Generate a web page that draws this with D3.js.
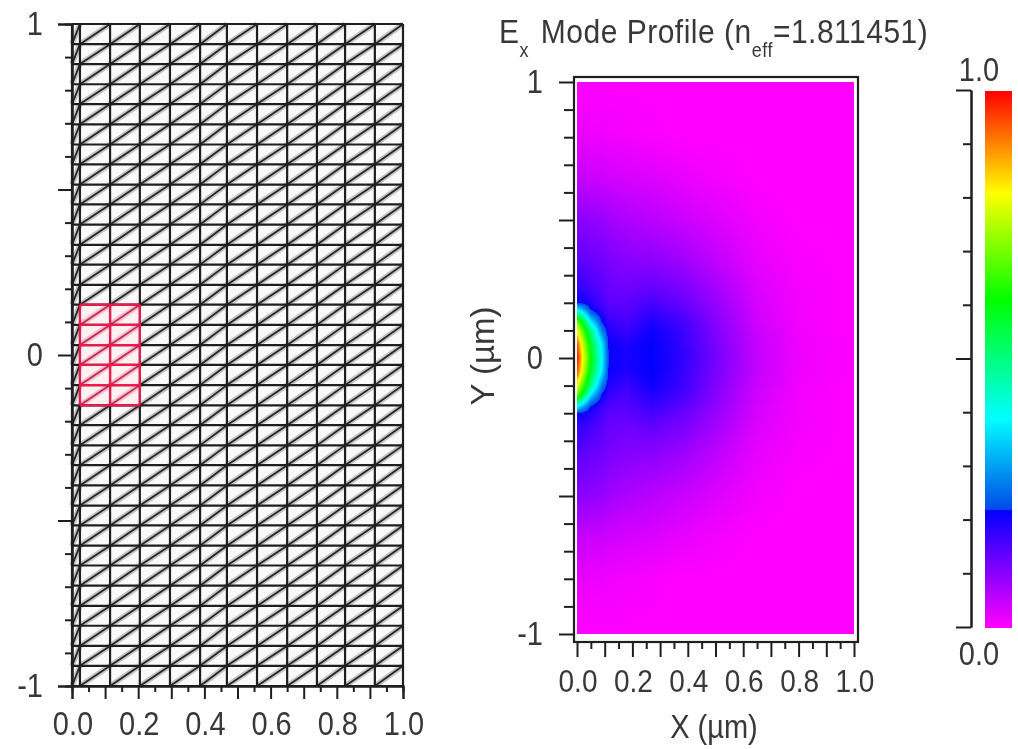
<!DOCTYPE html>
<html>
<head>
<meta charset="utf-8">
<script src="https://cdn.jsdelivr.net/npm/d3@7"></script>
<style>
  html, body { margin: 0; background: #fff; }
  svg { display: block; filter: blur(0.7px); }
  text { font-family: "Liberation Sans", Arial, sans-serif; fill: #383838; }
  text.st { transform-box: fill-box; transform-origin: center; transform: scaleY(1.13); }
</style>
</head>
<body>
<svg id="chart" width="1018" height="749"></svg>
<script>
// mesh lines of the left panel (um)
const meshX = [0, 0.024, 0.115, 0.205, 0.296, 0.387, 0.468, 0.559, 0.650, 0.740, 0.825, 0.915, 1];
const meshY = [1, 0.939, 0.879, 0.818, 0.758, 0.697, 0.636, 0.576, 0.515, 0.455, 0.394, 0.333, 0.273, 0.212, 0.152, 0.091, 0.030,
  -0.030, -0.091, -0.152, -0.212, -0.273, -0.333, -0.394, -0.455, -0.515, -0.576, -0.636, -0.697, -0.758, -0.818, -0.879, -0.939, -1];
// waveguide core, drawn in red
const coreX = [0.024, 0.205];
const coreY = [-0.152, 0.152];

// field, |y| rows by x columns (it is mirrored about y=0)
const fieldX = [0, 0.02, 0.05, 0.09, 0.115, 0.18, 0.27, 0.38, 0.5, 0.65, 0.8, 1];
const fieldY = [0, 0.05, 0.1, 0.13, 0.16, 0.18, 0.2, 0.25, 0.35, 0.5, 0.65, 0.8, 1];
const fieldZ = [
  [1.00, 0.82, 0.61, 0.39, 0.215, 0.20, 0.22, 0.18, 0.12, 0.05, 0.015, 0],
  [0.95, 0.78, 0.58, 0.37, 0.21, 0.195, 0.22, 0.175, 0.115, 0.05, 0.015, 0],
  [0.80, 0.68, 0.50, 0.27, 0.19, 0.17, 0.21, 0.17, 0.11, 0.045, 0.012, 0],
  [0.70, 0.60, 0.38, 0.22, 0.175, 0.16, 0.195, 0.16, 0.105, 0.04, 0.01, 0],
  [0.50, 0.42, 0.26, 0.19, 0.16, 0.15, 0.18, 0.15, 0.10, 0.04, 0.01, 0],
  [0.36, 0.30, 0.21, 0.17, 0.15, 0.145, 0.17, 0.14, 0.095, 0.035, 0.01, 0],
  [0.215, 0.21, 0.19, 0.16, 0.14, 0.14, 0.16, 0.13, 0.09, 0.035, 0.01, 0],
  [0.18, 0.175, 0.16, 0.145, 0.13, 0.125, 0.135, 0.115, 0.08, 0.03, 0.008, 0],
  [0.145, 0.14, 0.13, 0.125, 0.115, 0.105, 0.10, 0.085, 0.055, 0.02, 0.005, 0],
  [0.10, 0.10, 0.095, 0.09, 0.08, 0.07, 0.06, 0.045, 0.03, 0.01, 0, 0],
  [0.05, 0.05, 0.045, 0.045, 0.04, 0.035, 0.03, 0.02, 0.01, 0, 0, 0],
  [0.02, 0.02, 0.015, 0.015, 0.012, 0.01, 0.005, 0, 0, 0, 0, 0],
  [0, 0, 0, 0, 0, 0, 0, 0, 0, 0, 0, 0]
];

// colour bar stops, with the hard step just above blue
const colorValues = [0, 0.22, 0.2201, 0.39, 0.61, 0.81, 1];
const colorNames = ["#ff00ff", "#0000ff", "#0048e8", "#00ffff", "#00ff00", "#ffff00", "#ff0000"];

const xTicks = [0, 0.2, 0.4, 0.6, 0.8, 1];
const xMinor = [0.05, 0.1, 0.15, 0.25, 0.3, 0.35, 0.45, 0.5, 0.55, 0.65, 0.7, 0.75, 0.85, 0.9, 0.95];
const yTicks = [-1, 0, 1];
const yMajor = [-1, -0.5, 0, 0.5, 1];
const yMinor = [-0.9, -0.8, -0.7, -0.6, -0.4, -0.3, -0.2, -0.1, 0.1, 0.2, 0.3, 0.4, 0.6, 0.7, 0.8, 0.9];
const barMajor = [0, 0.5, 1];
const barMinor = [0.1, 0.2, 0.3, 0.4, 0.6, 0.7, 0.8, 0.9];

const svg = d3.select("#chart");
const ink = "#1f1f1f";

const color = d3.scaleLinear().domain(colorValues).range(colorNames).clamp(true);

function fmt(d) { return d3.format(".1f")(d); }

function styleAxis(g, width) {
  g.selectAll(".domain").attr("stroke", ink).attr("stroke-width", width);
  g.selectAll("line").attr("stroke", ink).attr("stroke-width", width);
}

// ---- left panel, the mesh
const xL = d3.scaleLinear().domain([0, 1]).range([72, 403]);
const yL = d3.scaleLinear().domain([-1, 1]).range([686, 24]);
const left = svg.append("g");

const cells = [];
d3.pairs(meshX).forEach(([x0, x1]) => {
  d3.pairs(meshY).forEach(([y1, y0]) => {
    const isCore = x0 >= coreX[0] && x1 <= coreX[1] && y0 >= coreY[0] && y1 <= coreY[1];
    cells.push({ x0, x1, y0, y1, isCore });
  });
});

left.selectAll("rect.cell").data(cells).enter().append("rect")
  .attr("class", "cell")
  .attr("x", d => xL(d.x0)).attr("y", d => yL(d.y1))
  .attr("width", d => xL(d.x1) - xL(d.x0)).attr("height", d => yL(d.y0) - yL(d.y1))
  .attr("fill", d => d.isCore ? "#fff0f4" : "#fafafa");

// grey halo round every diagonal, then the diagonal itself
left.selectAll("line.halo").data(cells).enter().append("line")
  .attr("class", "halo")
  .attr("x1", d => xL(d.x0)).attr("y1", d => yL(d.y0))
  .attr("x2", d => xL(d.x1)).attr("y2", d => yL(d.y1))
  .attr("stroke", d => d.isCore ? "#f5bccd" : "#c4c4c4").attr("stroke-width", 5.5);
left.selectAll("line.diag").data(cells).enter().append("line")
  .attr("class", "diag")
  .attr("x1", d => xL(d.x0)).attr("y1", d => yL(d.y0))
  .attr("x2", d => xL(d.x1)).attr("y2", d => yL(d.y1))
  .attr("stroke", d => d.isCore ? "#c02a50" : "#262626").attr("stroke-width", 1.8);

left.selectAll("line.mv").data(meshX).enter().append("line")
  .attr("class", "mv")
  .attr("x1", d => xL(d)).attr("x2", d => xL(d)).attr("y1", yL(1)).attr("y2", yL(-1))
  .attr("stroke", ink).attr("stroke-width", 2.2);
left.selectAll("line.mh").data(meshY).enter().append("line")
  .attr("class", "mh")
  .attr("x1", xL(0)).attr("x2", xL(1)).attr("y1", d => yL(d)).attr("y2", d => yL(d))
  .attr("stroke", ink).attr("stroke-width", 2.2);

// core lines on top
const coreLinesX = meshX.filter(d => d >= coreX[0] && d <= coreX[1]);
const coreLinesY = meshY.filter(d => d >= coreY[0] && d <= coreY[1]);
left.selectAll("line.cv").data(coreLinesX).enter().append("line")
  .attr("class", "cv")
  .attr("x1", d => xL(d)).attr("x2", d => xL(d)).attr("y1", yL(coreY[1])).attr("y2", yL(coreY[0]))
  .attr("stroke", "#f0184a").attr("stroke-width", 2.2);
left.selectAll("line.ch").data(coreLinesY).enter().append("line")
  .attr("class", "ch")
  .attr("x1", xL(coreX[0])).attr("x2", xL(coreX[1])).attr("y1", d => yL(d)).attr("y2", d => yL(d))
  .attr("stroke", "#f0184a").attr("stroke-width", 2.2);

function xAxes(g, x, y0, longLen, shortLen, size, labelY) {
  const long = g.append("g").attr("transform", `translate(0,${y0})`)
    .call(d3.axisBottom(x).tickValues(d3.merge([xTicks, xMinor.filter(d => Math.round(d * 100) % 10 === 0)])).tickSize(longLen).tickFormat(""));
  const short = g.append("g").attr("transform", `translate(0,${y0})`)
    .call(d3.axisBottom(x).tickValues(xMinor.filter(d => Math.round(d * 100) % 10 !== 0)).tickSize(shortLen).tickFormat(""));
  styleAxis(long, 2);
  styleAxis(short, 2);
  g.selectAll("text.xl").data(xTicks).enter().append("text")
    .attr("class", "xl st")
    .attr("x", d => x(d) + 1).attr("y", labelY)
    .attr("text-anchor", "middle").attr("font-size", size)
    .text(fmt);
}

function yAxes(g, y, x0, longLen, shortLen, size, labelX) {
  const long = g.append("g").attr("transform", `translate(${x0},0)`)
    .call(d3.axisLeft(y).tickValues(yMajor).tickSize(longLen).tickFormat(""));
  const short = g.append("g").attr("transform", `translate(${x0},0)`)
    .call(d3.axisLeft(y).tickValues(yMinor).tickSize(shortLen).tickFormat(""));
  styleAxis(long, 2);
  styleAxis(short, 2);
  g.selectAll("text.yl").data(yTicks).enter().append("text")
    .attr("class", "yl st")
    .attr("x", labelX).attr("y", d => y(d) + 10)
    .attr("text-anchor", "end").attr("font-size", size)
    .text(d => d);
}

xAxes(left, xL, 686, 13, 6, 29, 734);
yAxes(left, yL, 72, 14, 7, 29, 43);

// ---- right panel, the mode profile
const xR = d3.scaleLinear().domain([0, 1]).range([577, 854]);
const yR = d3.scaleLinear().domain([-1, 1]).range([634, 82]);
const right = svg.append("g");

// shade the read values onto a canvas, pixel by pixel through the scales
function fieldAt(x, y) {
  const ay = Math.abs(y);
  const i = Math.min(d3.bisectRight(fieldX, x) - 1, fieldX.length - 2);
  const j = Math.min(d3.bisectRight(fieldY, ay) - 1, fieldY.length - 2);
  const tx = (x - fieldX[i]) / (fieldX[i + 1] - fieldX[i]);
  const ty = (ay - fieldY[j]) / (fieldY[j + 1] - fieldY[j]);
  const a = d3.interpolateNumber(fieldZ[j][i], fieldZ[j][i + 1])(tx);
  const b = d3.interpolateNumber(fieldZ[j + 1][i], fieldZ[j + 1][i + 1])(tx);
  return d3.interpolateNumber(a, b)(ty);
}

const heatW = Math.round(xR(1) - xR(0));
const heatH = Math.round(yR(-1) - yR(1));
const canvas = document.createElement("canvas");
canvas.width = heatW;
canvas.height = heatH;
const ctx = canvas.getContext("2d");
d3.range(heatW).forEach(px => {
  d3.range(heatH).forEach(py => {
    ctx.fillStyle = color(fieldAt(xR.invert(xR(0) + px + 0.5), yR.invert(yR(1) + py + 0.5)));
    ctx.fillRect(px, py, 1, 1);
  });
});

right.append("rect")
  .attr("x", 574).attr("y", 77).attr("width", 284).attr("height", 565)
  .attr("fill", "#fff").attr("stroke", ink).attr("stroke-width", 2.2);
right.append("image")
  .attr("x", xR(0)).attr("y", yR(1)).attr("width", heatW).attr("height", heatH)
  .attr("href", canvas.toDataURL());

xAxes(right, xR, 642, 15, 7, 28, 691);
yAxes(right, yR, 574, 15, 10, 29, 543);
right.selectAll(".domain").remove();

// titles
const title = svg.append("text").attr("class", "st").attr("x", 499).attr("y", 42)
  .attr("font-size", 30).attr("letter-spacing", 0.5);
title.append("tspan").text("E");
title.append("tspan").attr("dy", 13).attr("font-size", 18).text("x");
title.append("tspan").attr("dy", -13).attr("dx", 3).text(" Mode Profile (n");
title.append("tspan").attr("dy", 13).attr("font-size", 18).text("eff");
title.append("tspan").attr("dy", -13).text("=1.811451)");

svg.append("text").attr("class", "st").attr("x", 714).attr("y", 737).attr("text-anchor", "middle").attr("font-size", 29).text("X (\u00b5m)");
svg.append("text").attr("transform", "translate(494,356) rotate(-90)")
  .attr("text-anchor", "middle").attr("font-size", 33).text("Y (\u00b5m)");

// ---- colour bar
const yB = d3.scaleLinear().domain([0, 1]).range([627, 90]);
const bar = svg.append("g");
const grad = svg.append("defs").append("linearGradient")
  .attr("id", "barGrad").attr("x1", 0).attr("x2", 0).attr("y1", 1).attr("y2", 0);
grad.selectAll("stop").data(colorValues).enter().append("stop")
  .attr("offset", d => d)
  .attr("stop-color", (d, i) => colorNames[i]);
bar.append("rect")
  .attr("x", 985).attr("y", yB(1) + 1).attr("width", 27).attr("height", yB(0) - yB(1))
  .attr("fill", "url(#barGrad)");

const barLong = bar.append("g").attr("transform", "translate(971,0)")
  .call(d3.axisLeft(yB).tickValues(barMajor).tickSize(15).tickSizeOuter(0).tickFormat(""));
const barShort = bar.append("g").attr("transform", "translate(971,0)")
  .call(d3.axisLeft(yB).tickValues(barMinor).tickSize(8).tickSizeOuter(0).tickFormat(""));
styleAxis(barLong, 2);
styleAxis(barShort, 2);
bar.selectAll("text.bl").data([1, 0]).enter().append("text")
  .attr("class", "bl st")
  .attr("x", 979).attr("y", d => d === 1 ? 80 : 664)
  .attr("text-anchor", "middle").attr("font-size", 29)
  .text(fmt);
</script>
</body>
</html>
